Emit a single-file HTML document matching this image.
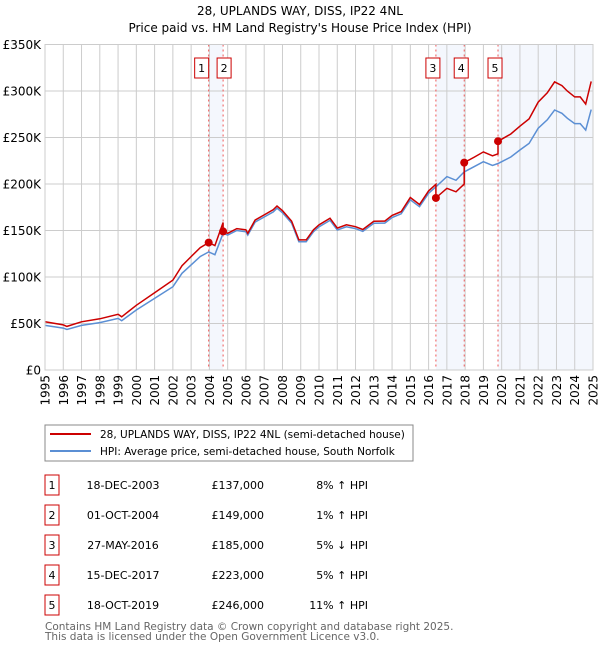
<!DOCTYPE html>
<html><head><meta charset="utf-8"><style>
body{margin:0;background:#fff;font-family:"DejaVu Sans","Liberation Sans",sans-serif}
svg text{font-family:"DejaVu Sans","Liberation Sans",sans-serif}
</style></head><body>
<svg id="c" width="600" height="650" viewBox="0 0 600 650" xmlns="http://www.w3.org/2000/svg">
<text x="300" y="15" text-anchor="middle" font-size="12">28, UPLANDS WAY, DISS, IP22 4NL</text>
<text x="300" y="32" text-anchor="middle" font-size="12">Price paid vs. HM Land Registry's House Price Index (HPI)</text>
<g id="plot"></g>
<g>
<rect x="45" y="425" width="368" height="36" fill="#fff" stroke="#888"/>
<line x1="50" y1="434" x2="91" y2="434" stroke="#cc0000" stroke-width="2"/>
<text x="100" y="438" font-size="10.5">28, UPLANDS WAY, DISS, IP22 4NL (semi-detached house)</text>
<line x1="50" y1="451" x2="91" y2="451" stroke="#5b8fd4" stroke-width="2"/>
<text x="100" y="455" font-size="10.5">HPI: Average price, semi-detached house, South Norfolk</text>
</g>
<g id="table"></g>
<text x="45" y="630" font-size="10.5" fill="#666">Contains HM Land Registry data © Crown copyright and database right 2025.</text>
<text x="45" y="640" font-size="10.5" fill="#666">This data is licensed under the Open Government Licence v3.0.</text>
</svg>
<script>
const hpiYears=[1995,1996,1996.2,1997,1998,1999,1999.2,2000,2001,2002,2002.5,2003,2003.5,2003.96,2004.3,2004.75,2005,2005.5,2006,2006.1,2006.5,2007,2007.5,2007.7,2008,2008.5,2008.9,2009.3,2009.7,2010,2010.6,2011,2011.5,2012,2012.4,2013,2013.6,2014,2014.5,2015,2015.5,2016,2016.4,2017,2017.5,2017.95,2018.5,2019,2019.5,2019.8,2020,2020.5,2021,2021.5,2022,2022.5,2022.9,2023.3,2023.6,2024,2024.3,2024.6,2024.9];
const hpiValues=[48,45,43.5,48,51,55.5,53,64.5,77,89.6,104,113,122,127,124,147,145,150,148.7,145,159,164.5,170,174,169,158,138,138,148.7,154,161,150.5,154,152,149,157.7,158,164,168,183,175.6,190,197,208,204,213,218.7,224,220,222,224,229,236.6,243.7,260,269,279.6,276,270.6,265,265,258,280];
const saleDates=[2003.96,2004.75,2016.4,2017.95,2019.8];
const salePrices=[137,149,185,223,246];
const saleLabels=["18-DEC-2003","01-OCT-2004","27-MAY-2016","15-DEC-2017","18-OCT-2019"];
const salePriceText=["£137,000","£149,000","£185,000","£223,000","£246,000"];
const saleHpiText=["8% ↑ HPI","1% ↑ HPI","5% ↓ HPI","5% ↑ HPI","11% ↑ HPI"];
const yTicks=[0,50,100,150,200,250,300,350];
const yTickLabels=["£0","£50K","£100K","£150K","£200K","£250K","£300K","£350K"];

const X0=45,X1=593,Y0=370,Y1=44.5;
const xs=y=>X0+(y-1995)/(2025-1995)*(X1-X0);
const ys=v=>Y0-v/350*(Y0-Y1);
const NS="http://www.w3.org/2000/svg";
const plot=document.getElementById('plot');
function mk(tag,attrs,parent){const e=document.createElementNS(NS,tag);for(const k in attrs)e.setAttribute(k,attrs[k]);(parent||plot).appendChild(e);return e;}
function hpiAt(t){for(let i=1;i<hpiYears.length;i++){if(t<=hpiYears[i]){const f=(t-hpiYears[i-1])/(hpiYears[i]-hpiYears[i-1]);return hpiValues[i-1]+f*(hpiValues[i]-hpiValues[i-1]);}}return hpiValues[hpiValues.length-1];}

mk('rect',{x:X0,y:Y1,width:X1-X0,height:Y0-Y1,fill:'#fff'});
const shades=[[0,1],[2,3],[4,null]];
shades.forEach(s=>{const a=xs(saleDates[s[0]]),b=s[1]===null?X1:xs(saleDates[s[1]]);
const r=mk('rect',{x:a,y:Y1,width:b-a,height:Y0-Y1,fill:'#eef3fc',opacity:'0.65'});

});
for(let yr=1995;yr<=2025;yr++){const l=mk('line',{x1:xs(yr),x2:xs(yr),y1:Y1,y2:Y0,stroke:'#ccc','stroke-width':1});


const t=mk('text',{x:0,y:0,'font-size':12,'text-anchor':'end',transform:`translate(${xs(yr)+4.5},375) rotate(-90)`});t.textContent=yr;

}
yTicks.forEach((v,i)=>{const l=mk('line',{x1:X0,x2:X1,y1:ys(v),y2:ys(v),stroke:'#ccc','stroke-width':1});


const t=mk('text',{x:X0-4,y:ys(v)+4.5,'font-size':12,'text-anchor':'end'});t.textContent=yTickLabels[i];

});
saleDates.forEach((d,i)=>{const l=mk('line',{x1:xs(d),x2:xs(d),y1:Y1,y2:Y0,stroke:'#e55','stroke-width':1,'stroke-dasharray':'2,3'});


const bx=i===0?xs(d)-14:(i===1?xs(d)-6:xs(d)-10);
const g=mk('g',{});


mk('rect',{x:bx,y:58,width:14,height:20,fill:'#fff',stroke:'#cc0000'},g);
const t=mk('text',{x:bx+7,y:72,'font-size':11,'text-anchor':'middle'},g);t.textContent=i+1;});
let hp=hpiYears.map((y,i)=>`${xs(y).toFixed(1)},${ys(hpiValues[i]).toFixed(1)}`).join(' ');
const hl=mk('polyline',{points:hp,fill:'none',stroke:'#5b8fd4','stroke-width':1.5});


let pts=[];
const times=[...hpiYears,...saleDates].sort((a,b)=>a-b);
times.forEach(t=>{let k=-1;for(let j=0;j<saleDates.length;j++)if(t>=saleDates[j])k=j;
const idx=Math.max(k,0);const ratio=salePrices[idx]/hpiAt(saleDates[idx]);
if(k>=0&&t===saleDates[k]&&k>0){const pr=salePrices[k-1]/hpiAt(saleDates[k-1]);pts.push([t,hpiAt(t)*pr]);}
pts.push([t,hpiAt(t)*ratio]);});
const pl=mk('polyline',{points:pts.map(p=>`${xs(p[0]).toFixed(1)},${ys(p[1]).toFixed(1)}`).join(' '),fill:'none',stroke:'#cc0000','stroke-width':1.5});


saleDates.forEach((d,i)=>{const c=mk('circle',{cx:xs(d),cy:ys(salePrices[i]),r:4,fill:'#cc0000'});

});
mk('rect',{x:X0,y:Y1,width:X1-X0,height:Y0-Y1,fill:'none',stroke:'#ccc'});
const tb=document.getElementById('table');
saleLabels.forEach((s,i)=>{const cy=485+i*30;const g=mk('g',{},tb);


mk('rect',{x:45,y:cy-10,width:14,height:20,fill:'#fff',stroke:'#cc0000'},g);
let t=mk('text',{x:52,y:cy+4,'font-size':11,'text-anchor':'middle'},g);t.textContent=i+1;
t=mk('text',{x:123,y:cy+4,'font-size':11,'text-anchor':'middle'},g);t.textContent=s;
t=mk('text',{x:264,y:cy+4,'font-size':11,'text-anchor':'end'},g);t.textContent=salePriceText[i];
t=mk('text',{x:368,y:cy+4,'font-size':11,'text-anchor':'end'},g);t.textContent=saleHpiText[i];});
</script>
</body></html>
